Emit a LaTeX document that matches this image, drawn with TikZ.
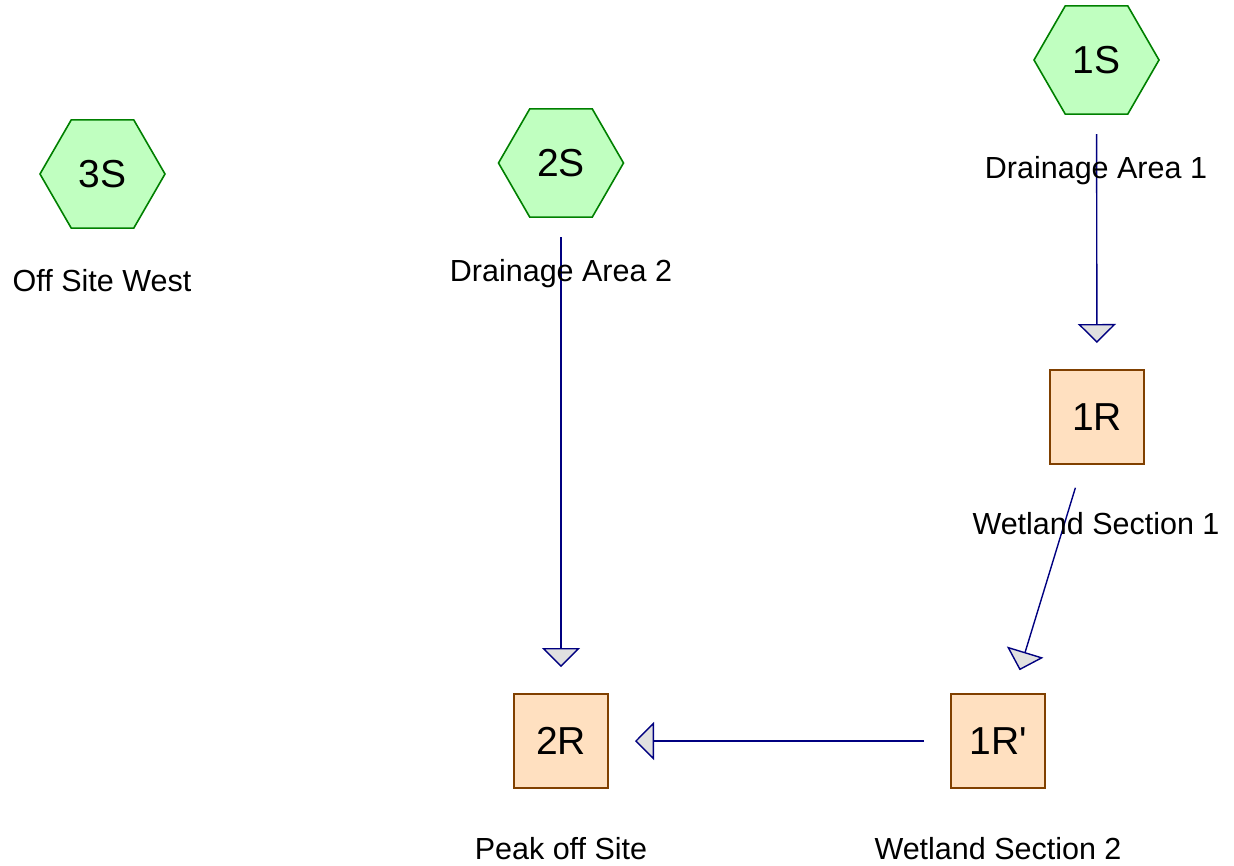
\documentclass[tikz,border=0pt]{standalone}
\usepackage{fontspec}
\newfontfamily\diagfont{Liberation Sans}
\usetikzlibrary{shapes.geometric,arrows.meta,calc}
\definecolor{subfill}{HTML}{C0FFC0}
\definecolor{subdraw}{HTML}{008000}
\definecolor{reachfill}{HTML}{FFE0C0}
\definecolor{reachdraw}{HTML}{804000}
\definecolor{flow}{HTML}{000080}
\definecolor{headfill}{HTML}{E0E0E0}
\tikzset{
  subcat/.style={regular polygon, regular polygon sides=6, shape border rotate=0,
    minimum size=125pt, inner sep=0pt, outer sep=0pt, draw=subdraw, fill=subfill,
    line width=1.6pt, font=\diagfont\fontsize{39}{42}\selectfont},
  reach/.style={rectangle, minimum size=94pt, inner sep=0pt, outer sep=0pt,
    draw=reachdraw, fill=reachfill, line width=1.6pt, font=\diagfont\fontsize{39}{42}\selectfont},
  caption/.style={anchor=base, inner sep=0pt, font=\diagfont\fontsize{30.5}{34}\selectfont},
  flowline/.style={draw=flow, line width=1.4pt,
    -{Triangle[length=19pt, width=38pt, fill=headfill, line join=miter]}},
}
\newcommand{\flowlink}[2]{\draw[flowline] ($(#1)!74pt!(#2)$) -- ($(#2)!74pt!(#1)$);}
\begin{document}
\begin{tikzpicture}[x=1pt, y=-1pt]
  \useasboundingbox (0,0) rectangle (1234,865);

  % subcatchments
  \node[subcat] (s1) at (1096.5,60) {1S};
  \node[subcat] (s2) at (561,163) {2S};
  \node[subcat] (s3) at (102.5,174) {3S};

  % reaches
  \node[reach] (r1) at (1097,417) {1R};
  \node[reach] (r1p) at (998,741) {1R'};
  \node[reach] (r2) at (561,741) {2R};

  % flow connections
  \flowlink{s1}{r1}
  \flowlink{s2}{r2}
  \flowlink{r1}{r1p}
  \flowlink{r1p}{r2}

  % captions
  \node[caption] (c1) at (1096,178) {Drainage Area 1};
  \node[caption] (c2) at (561,281) {Drainage Area 2};
  \node[caption] (c3) at (102,291) {Off Site West};
  \node[caption] (c4) at (1096,534) {Wetland Section 1};
  \node[caption] (c5) at (561,859) {Peak off Site};
  \node[caption] (c6) at (998,859) {Wetland Section 2};
\end{tikzpicture}
\end{document}
